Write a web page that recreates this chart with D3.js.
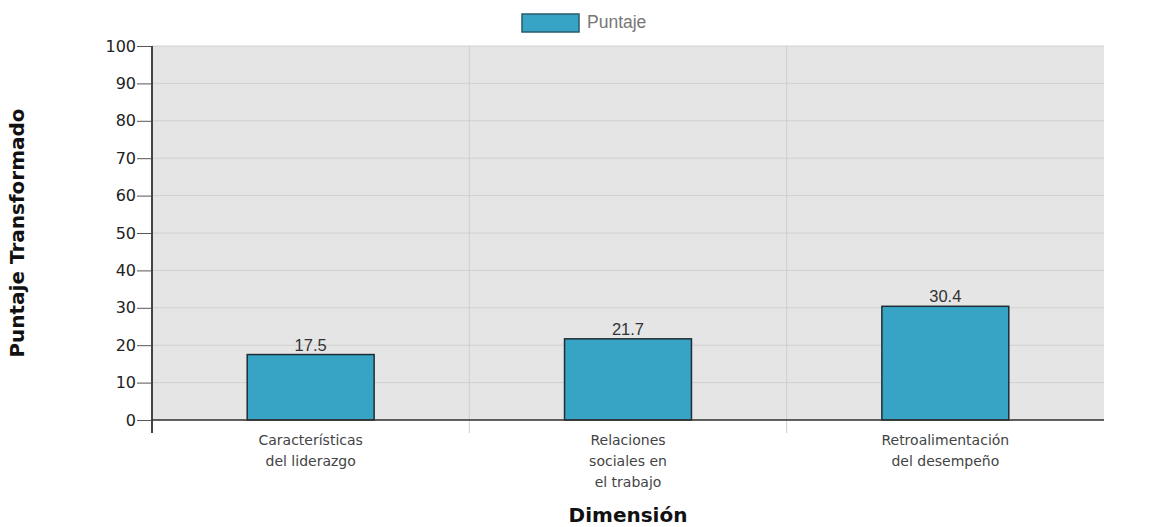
<!DOCTYPE html>
<html><head><meta charset="utf-8">
<script src="https://cdn.jsdelivr.net/npm/d3@7"></script>
<style>body{margin:0;background:#fff}</style>
</head><body><svg id="c" width="1169" height="527"></svg>
<script>
const categories = [["Características","del liderazgo"],["Relaciones","sociales en","el trabajo"],["Retroalimentación","del desempeño"]];
const values = [17.5, 21.7, 30.4];
const yTicks = [0,10,20,30,40,50,60,70,80,90,100];
const seriesName = "Puntaje";

const svg = d3.select("#c");
const m = {l:152, r:1104, t:46, b:420};
const x = d3.scaleBand().domain(d3.range(categories.length)).range([m.l, m.r]).paddingInner(0).paddingOuter(0);
const y = d3.scaleLinear().domain([0,100]).range([m.b, m.t]);

svg.append("rect").attr("x", m.l).attr("y", m.t).attr("width", m.r-m.l).attr("height", m.b-m.t).attr("fill", "#e5e5e5");
// horizontal grid
svg.append("g").selectAll("line").data(yTicks).join("line")
  .attr("x1", m.l).attr("x2", m.r).attr("y1", d=>y(d)).attr("y2", d=>y(d))
  .attr("stroke", "#d0d0d0").attr("stroke-width", 1);
// vertical grid (category boundaries)
svg.append("g").selectAll("line").data(d3.range(1, categories.length)).join("line")
  .attr("x1", d=>x(d)).attr("x2", d=>x(d)).attr("y1", m.t).attr("y2", m.b+13)
  .attr("stroke", "#cfcfcf").attr("stroke-width", 1);

// bars
const bw = x.bandwidth()*0.4;
svg.append("g").selectAll("rect").data(values).join("rect")
  .attr("x", (d,i)=>x(i)+x.bandwidth()/2-bw/2).attr("width", bw)
  .attr("y", d=>y(d)).attr("height", d=>y(0)-y(d))
  .attr("fill", "#37a4c6").attr("stroke", "#1e2d33").attr("stroke-width", 1.5);
svg.append("g").selectAll("text").data(values).join("text")
  .attr("x", (d,i)=>x(i)+x.bandwidth()/2).attr("y", d=>y(d)-4)
  .attr("text-anchor","middle").attr("font-family","Liberation Sans, Arial").attr("font-size",16.5).attr("fill","#333")
  .text(d=>d.toFixed(1));

// y axis
const ya = svg.append("g").attr("transform", `translate(${m.l},0)`)
  .call(d3.axisLeft(y).tickValues(yTicks).tickSize(15).tickPadding(1).tickSizeOuter(0));
ya.select(".domain").remove();
ya.selectAll(".tick line").attr("stroke","#555");
ya.selectAll("text").attr("font-family","DejaVu Sans, Verdana").attr("font-size",16).attr("fill","#222");
svg.append("line").attr("x1",m.l).attr("x2",m.l).attr("y1",m.t).attr("y2",m.b+13).attr("stroke","#444").attr("stroke-width",2);
// x axis baseline
svg.append("line").attr("x1",m.l).attr("x2",m.r).attr("y1",m.b).attr("y2",m.b).attr("stroke","#333").attr("stroke-width",1.5);

// category labels
const cl = svg.append("g").selectAll("text").data(categories).join("text")
  .attr("x",(d,i)=>x(i)+x.bandwidth()/2).attr("y", m.b+25)
  .attr("text-anchor","middle").attr("font-family","DejaVu Sans, Verdana").attr("font-size",14).attr("fill","#444");
cl.each(function(d){
  const t = d3.select(this);
  d.forEach((line,j)=>t.append("tspan").attr("x", t.attr("x")).attr("dy", j===0?0:21).text(line));
});

// axis titles
svg.append("text").attr("transform",`translate(24,${(m.t+m.b)/2}) rotate(-90)`)
  .attr("text-anchor","middle").attr("font-family","DejaVu Sans, Verdana").attr("font-weight","bold").attr("font-size",20).attr("fill","#111")
  .text("Puntaje Transformado");
svg.append("text").attr("x",(m.l+m.r)/2).attr("y",522)
  .attr("text-anchor","middle").attr("font-family","DejaVu Sans, Verdana").attr("font-weight","bold").attr("font-size",20).attr("fill","#111")
  .text("Dimensión");

// legend
const lg = svg.append("g");
lg.append("rect").attr("x",522).attr("y",14).attr("width",57).attr("height",18).attr("fill","#37a4c6").attr("stroke","#2a5a6a").attr("stroke-width",1.5);
lg.append("text").attr("x",587).attr("y",28).attr("font-family","Liberation Sans, Arial").attr("font-size",17.5).attr("fill","#777").text(seriesName);
</script></body></html>
